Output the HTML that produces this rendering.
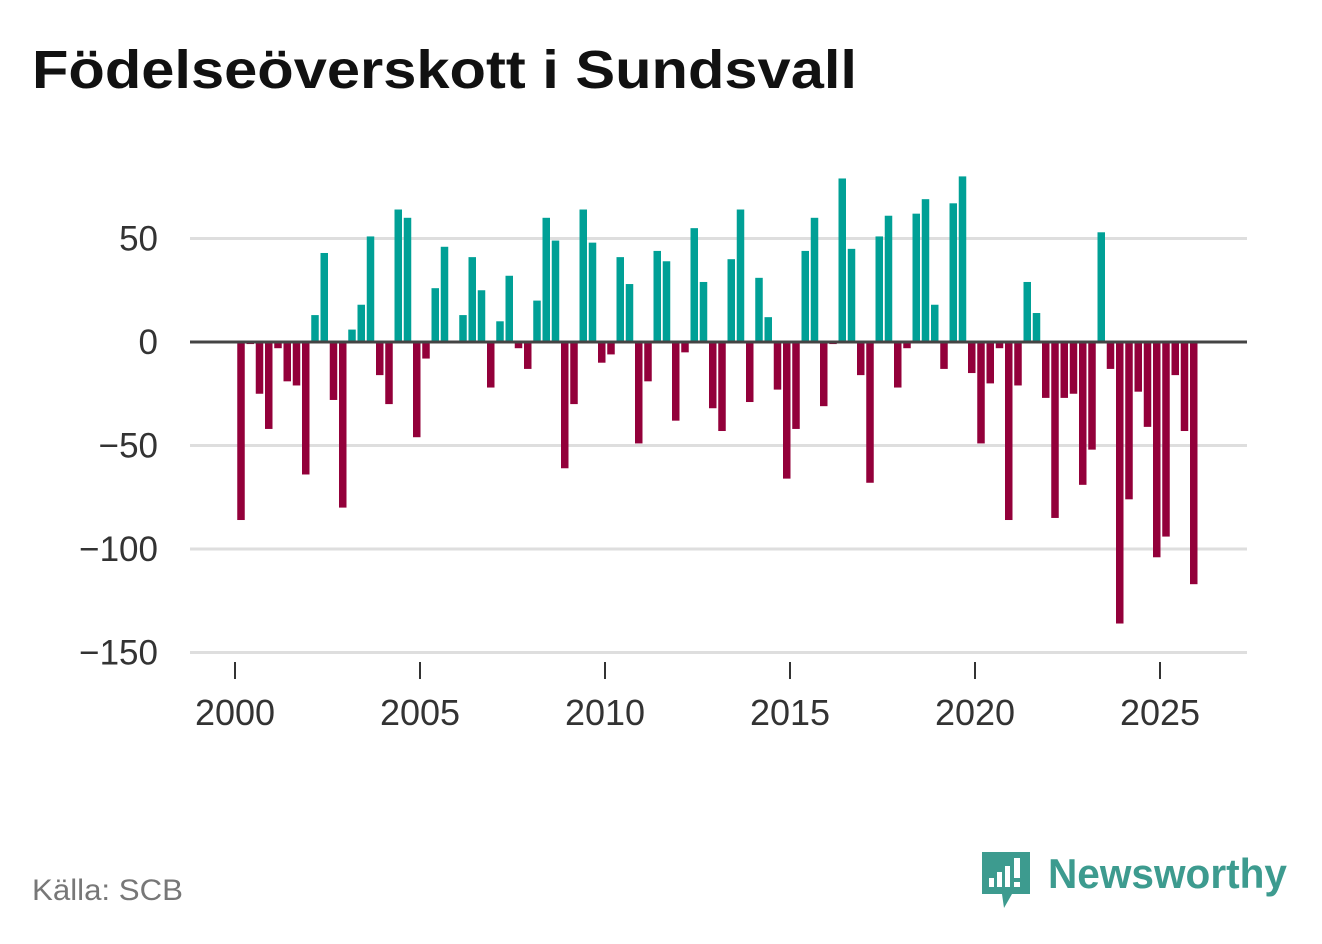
<!DOCTYPE html>
<html><head><meta charset="utf-8"><style>
body{margin:0;background:#fff;width:1322px;height:939px;overflow:hidden;font-family:"Liberation Sans",sans-serif}
</style></head><body>
<svg width="1322" height="939">
<text x="32" y="88" font-family="Liberation Sans, sans-serif" font-weight="bold" font-size="54" fill="#111" textLength="825" lengthAdjust="spacingAndGlyphs">Födelseöverskott i Sundsvall</text>
<g id="grid"></g><g id="bars"></g><g id="axes"></g>
<text x="32" y="900" font-size="30" fill="#777" textLength="151" lengthAdjust="spacingAndGlyphs">Källa: SCB</text>
<g>
<path d="M982 852 h48 v42 h-18 l-8 14 l-2 -14 h-20 z" fill="#3d9b8f"/>
<rect x="989" y="878" width="5" height="9" fill="#fff"/><rect x="997" y="872" width="5" height="15" fill="#fff"/><rect x="1005" y="866" width="5" height="21" fill="#fff"/><rect x="1014" y="858" width="6" height="20" fill="#fff"/><rect x="1014" y="882" width="6" height="5" fill="#fff"/>
<text x="1048" y="888" font-size="42" font-weight="bold" fill="#3d9b8f" textLength="239" lengthAdjust="spacingAndGlyphs">Newsworthy</text>
</g>
</svg>
<script>
const values=[-86,-1,-25,-42,-3,-19,-21,-64,13,43,-28,-80,6,18,51,-16,-30,64,60,-46,-8,26,46,0,13,41,25,-22,10,32,-3,-13,20,60,49,-61,-30,64,48,-10,-6,41,28,-49,-19,44,39,-38,-5,55,29,-32,-43,40,64,-29,31,12,-23,-66,-42,44,60,-31,-1,79,45,-16,-68,51,61,-22,-3,62,69,18,-13,67,80,-15,-49,-20,-3,-86,-21,29,14,-27,-85,-27,-25,-69,-52,53,-13,-136,-76,-24,-41,-104,-94,-16,-43,-117];
const yTicks=[50,0,-50,-100,-150];
const yTickLabels=["50","0","−50","−100","−150"];
const xTicks=[2000,2005,2010,2015,2020,2025];
const startYear=2000;
const NS="http://www.w3.org/2000/svg";
const y=v=>342-v*2.07;
const x=t=>235+37*(t-2000);
function mk(tag,attrs,parent){const e=document.createElementNS(NS,tag);for(const k in attrs)e.setAttribute(k,attrs[k]);document.getElementById(parent).appendChild(e);return e;}
yTicks.forEach((v,i)=>{
 if(v!==0){const l=mk('line',{x1:190,x2:1247,y1:y(v),y2:y(v),stroke:'#dedede','stroke-width':3},'grid');
 
 }
 const t=mk('text',{x:158,y:y(v)+12,'text-anchor':'end','font-size':35,fill:'#333','font-family':'Liberation Sans, sans-serif'},'axes');t.textContent=yTickLabels[i];
 
 
});
values.forEach((v,i)=>{
 const cx=x(startYear+i/4)+6;
 const r=mk('rect',{x:cx-3.75,width:7.5,y:Math.min(y(v),y(0)),height:Math.abs(y(v)-y(0)),fill:v>=0?'#00a096':'#93003a'},'bars');
 
 
});
const z=mk('line',{x1:190,x2:1247,y1:y(0),y2:y(0),stroke:'#444','stroke-width':3},'axes');


xTicks.forEach(t=>{
 const tk=mk('line',{x1:x(t),x2:x(t),y1:662,y2:679,stroke:'#333','stroke-width':2},'axes');
 
 
 const l=mk('text',{x:x(t),y:725,'text-anchor':'middle','font-size':36,fill:'#333','font-family':'Liberation Sans, sans-serif'},'axes');l.textContent=t;
 
 
});
</script>
</body></html>
